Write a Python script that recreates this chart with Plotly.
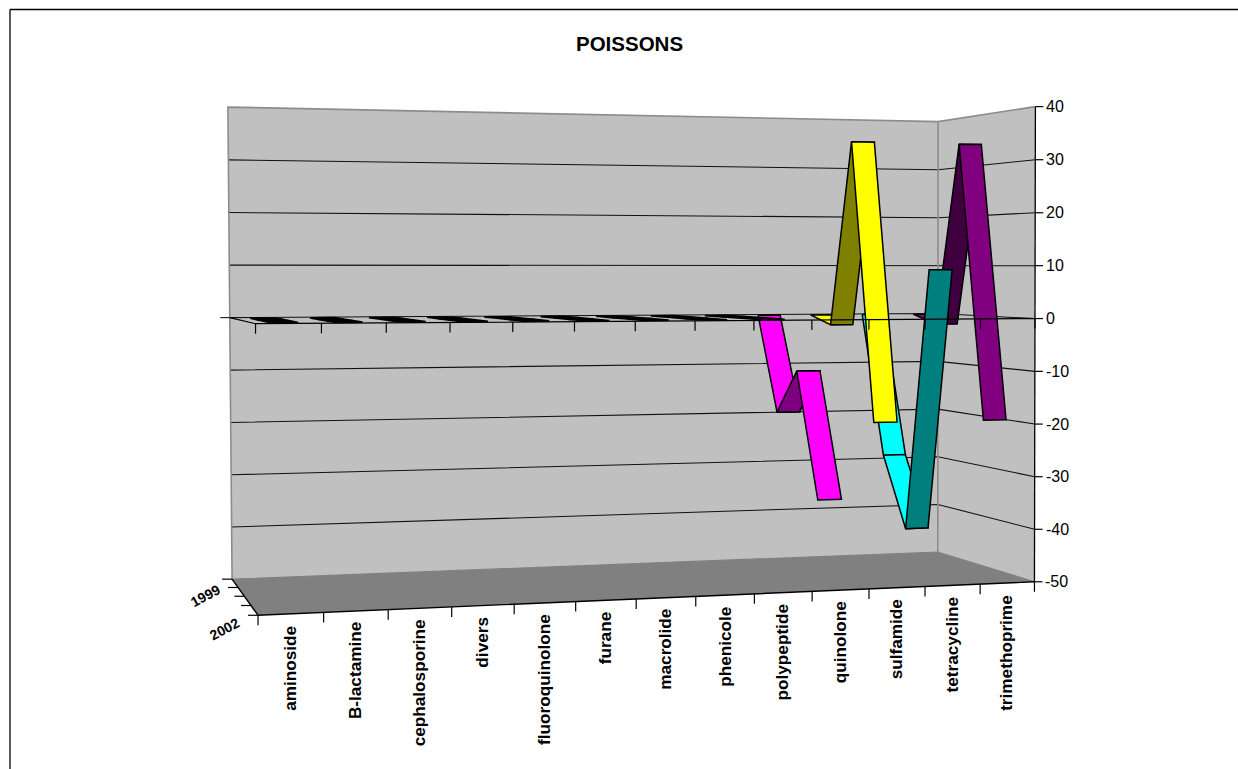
import numpy as np
import plotly.graph_objects as go

# Data
categories = ["aminoside", "B-lactamine", "cephalosporine", "divers", "fluoroquinolone",
              "furane", "macrolide", "phenicole", "polypeptide", "quinolone",
              "sulfamide", "tetracycline", "trimethoprime"]
years = ["1999", "2000", "2001", "2002"]
year_labels = {0: "1999", 3: "2002"}
value_ticks = [40, 30, 20, 10, 0, -10, -20, -30, -40, -50]

aminoside = [0, 0, 0, 0]
b_lactamine = [0, 0, 0, 0]
cephalosporine = [0, 0, 0, 0]
divers = [0, 0, 0, 0]
fluoroquinolone = [0, 0, 0, 0]
furane = [0, 0, 0, 0]
macrolide = [0, 0, 0, 0]
phenicole = [0, 0, 0, 0]
polypeptide = [0, 0, 0, 0]
quinolone = [0, -18.8, -10.2, -33.8]
sulfamide = [0, -1.7, 33.8, -19.5]
tetracycline = [0, -27.8, -41.2, 9.2]
trimethoprime = [0, -1.7, 33.7, -19.5]

series = [aminoside, b_lactamine, cephalosporine, divers, fluoroquinolone, furane, macrolide,
          phenicole, polypeptide, quinolone, sulfamide, tetracycline, trimethoprime]
series_colors = ["#909090"] * 9 + ["#FF00FF", "#FFFF00", "#00FFFF", "#800080"]

# Perspective camera: anchors are (u along categories, w front-to-back, value) -> screen position
VMIN, VMAX = -50, 40
anchors = [
    (0, 1, 40, 228, 107), (0, 1, -50, 232, 578), (1, 1, 40, 938, 121), (1, 1, -50, 938, 552),
    (1, 0, 40, 1035, 107), (1, 0, -50, 1034, 582), (0, 0, -50, 258, 616), (0, 1, 0, 229.5, 318),
    (1, 1, 0, 938, 315), (1, 0, 0, 1035, 318), (0, 0, 0, 256, 324),
    (1 / 13, 0, 0, 321, 323.5), (2 / 13, 0, 0, 386, 323), (3 / 13, 0, 0, 450, 322.6),
    (4 / 13, 0, 0, 513, 322), (5 / 13, 0, 0, 575, 321.6), (6 / 13, 0, 0, 635, 321),
    (7 / 13, 0, 0, 695, 320.6), (8 / 13, 0, 0, 754, 320.2), (9 / 13, 0, 0, 812, 320),
    (10 / 13, 0, 0, 869, 319.6), (11 / 13, 0, 0, 925, 319), (12 / 13, 0, 0, 981, 318.5),
]


def solve_camera(points):
    rows = []
    for u, w, v, px, py in points:
        X = [u, w, v / 50.0, 1.0]
        sx, sy = px / 1000.0, py / 1000.0
        rows.append(X + [0, 0, 0, 0] + [-sx * c for c in X])
        rows.append([0, 0, 0, 0] + X + [-sy * c for c in X])
    return np.linalg.svd(np.array(rows))[2][-1].reshape(3, 4)


CAMERA = solve_camera(anchors)


def project(u, w, v):
    p = CAMERA @ np.array([u, w, v / 50.0, 1.0])
    return 1000.0 * p[0] / p[2], 1000.0 * p[1] / p[2]


def path(points):
    xy = [project(*p) for p in points]
    return [a for a, _ in xy], [b for _, b in xy]


fig = go.Figure()


def polygon(points, fill, line="rgba(0,0,0,0)", width=0):
    x, y = path(points)
    fig.add_trace(go.Scatter(x=x + x[:1], y=y + y[:1], mode="lines", fill="toself", fillcolor=fill,
                             line=dict(color=line, width=width), hoverinfo="skip", showlegend=False))


def stroke(points, color="#000000", width=1.0):
    x, y = path(points)
    fig.add_trace(go.Scatter(x=x, y=y, mode="lines", line=dict(color=color, width=width),
                             hoverinfo="skip", showlegend=False))


def segment(a, b, color="#000000", width=1.0):
    fig.add_trace(go.Scatter(x=[a[0], b[0]], y=[a[1], b[1]], mode="lines", line=dict(color=color, width=width),
                             hoverinfo="skip", showlegend=False))


# Walls and floor
polygon([(0, 1, VMAX), (1, 1, VMAX), (1, 1, VMIN), (0, 1, VMIN)], "#C0C0C0")
polygon([(1, 1, VMAX), (1, 0, VMAX), (1, 0, VMIN), (1, 1, VMIN)], "#C0C0C0")
polygon([(0, 1, VMIN), (1, 1, VMIN), (1, 0, VMIN), (0, 0, VMIN)], "#808080")

for t in value_ticks[1:-1]:
    stroke([(0, 1, t), (1, 1, t), (1, 0, t)], "#111111", 1.1)

stroke([(0, 1, VMIN), (0, 1, VMAX), (1, 1, VMAX), (1, 0, VMAX)], "#8C8C8C", 1.6)
stroke([(1, 1, VMAX), (1, 1, VMIN)], "#8C8C8C", 1.6)
stroke([(0, 1, VMIN), (1, 1, VMIN), (1, 0, VMIN)], "#808080", 1.2)

# Ribbons run front-to-back, one slot per category, painted from the back forwards
half_width = 0.21
year_depth = [(len(years) - 1 - i + 0.5) / len(years) for i in range(len(years))]


def shade(color):
    r, g, b = (int(color[i:i + 2], 16) // 2 for i in (1, 3, 5))
    return f"#{r:02X}{g:02X}{b:02X}"


for y0 in range(len(years) - 1):
    for slot, values in enumerate(series):
        left = (slot + 0.5 - half_width) / len(categories)
        right = (slot + 0.5 + half_width) / len(categories)
        a, b = values[y0], values[y0 + 1]
        fill = shade(series_colors[slot]) if b > a else series_colors[slot]
        polygon([(left, year_depth[y0], a), (right, year_depth[y0], a),
                 (right, year_depth[y0 + 1], b), (left, year_depth[y0 + 1], b)],
                fill, "#000000", 1.5 if any(values) else 1.8)

# Axes
stroke([(0, 1, VMIN), (0, 0, VMIN), (1, 0, VMIN)], "#000000", 1.4)
stroke([(0, 1, 0), (0, 0, 0), (1, 0, 0)], "#000000", 1.2)
stroke([(1, 0, VMAX), (1, 0, VMIN)], "#000000", 1.3)

x0, y0_ = project(0, 1, 0)
segment((x0 - 9.5, y0_), (x0, y0_))

for k in range(len(categories) + 1):
    for level in (0, VMIN):
        px, py = project(k / len(categories), 0, level)
        segment((px, py), (px, py + 10), "#000000", 1.2)

for i in range(len(years) + 1):
    px, py = project(0, 1 - i / len(years), VMIN)
    segment((px - 10, py), (px, py), "#000000", 1.2)

annotations = []
for t in value_ticks:
    px, py = project(1, 0, t)
    segment((px, py), (px + 8, py), "#000000", 1.2)
    annotations.append(dict(x=px + 9, y=py, text=str(t), showarrow=False, xanchor="left", yanchor="middle",
                            font=dict(family="Liberation Sans", size=16, color="#000000")))

for k, name in enumerate(categories):
    px, py = project((k + 0.5) / len(categories), 0, VMIN)
    annotations.append(dict(x=px - 1, y=py + 9.5, text=name, showarrow=False, textangle=-90, xanchor="center",
                            yanchor="top", font=dict(family="Liberation Sans", size=17.2, color="#000000", weight="bold")))

for i, name in year_labels.items():
    px, py = project(0, year_depth[i], VMIN)
    annotations.append(dict(x=px - 30, y=py + 1 + 12 + 2 * i, text=name, showarrow=False, textangle=-28, xanchor="center",
                            yanchor="middle", font=dict(family="Liberation Sans", size=14, color="#000000", weight="bold")))

annotations.append(dict(x=629.5, y=43, text="POISSONS", showarrow=False, xanchor="center", yanchor="middle",
                        font=dict(family="Liberation Sans", size=20.5, color="#000000", weight="bold")))

# Chart-area frame, open past the right and bottom of the page
segment((10, 775), (10, 9.5), "#000000", 1.3)
segment((10, 9.5), (1240, 9.5), "#000000", 1.3)

fig.update_layout(
    width=1238, height=769, margin=dict(l=0, r=0, t=0, b=0),
    paper_bgcolor="#FFFFFF", plot_bgcolor="#FFFFFF", showlegend=False,
    xaxis=dict(range=[0, 1238], visible=False, fixedrange=True),
    yaxis=dict(range=[769, 0], visible=False, fixedrange=True),
    annotations=annotations,
)
fig.write_html("out.html", config={"displayModeBar": False})
